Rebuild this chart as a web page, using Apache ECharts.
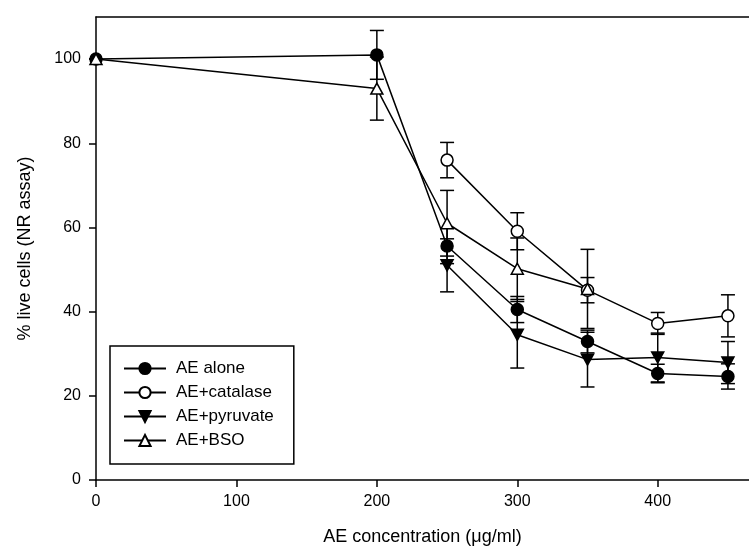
<!DOCTYPE html>
<html>
<head>
<meta charset="utf-8">
<script src="https://cdn.jsdelivr.net/npm/echarts@6/dist/echarts.min.js"></script>
<style>
  html, body { margin: 0; padding: 0; background: #fff; }
  #chart { width: 749px; height: 557px; }
</style>
</head>
<body>
<div id="chart"></div>
<script>
// doses (x values) for each series
var doseAlone = [0, 200, 250, 300, 350, 400, 450]
var doseCatalase = [250, 300, 350, 400, 450]
var dosePyruvate = [250, 300, 350, 400, 450]
var doseBSO = [0, 200, 250, 300, 350]

// % live cells and the error (SD) for each point
var aloneVals = [100, 101, 55.6, 40.5, 32.9, 25.3, 24.6]
var aloneErr = [0, 5.8, 4.2, 3.1, 2.7, 2.2, 3.0]
var catalaseVals = [76, 59.1, 45.1, 37.2, 39.0]
var catalaseErr = [4.2, 4.4, 3.0, 2.6, 5.0]
var pyruvateVals = [51, 34.5, 28.6, 29.1, 27.9]
var pyruvateErr = [6.3, 7.9, 6.5, 5.8, 5.0]
var bsoVals = [100, 93, 61, 50.2, 45.4]
var bsoErr = [0, 7.5, 7.8, 7.3, 9.4]

var xTicks = [0, 100, 200, 300, 400]
var yTicks = [0, 20, 40, 60, 80, 100]

var chart = echarts.init(document.getElementById('chart'))
var font = 'Liberation Sans, Arial, sans-serif'

function points (xs, ys) {
  return xs.map(function (x, i) { return [x, ys[i]] })
}
function errData (xs, ys, es) {
  return xs.map(function (x, i) { return [x, ys[i] - es[i], ys[i] + es[i]] })
}
// error bar: vertical line + two caps
function renderErr (params, api) {
  var lo = api.coord([api.value(0), api.value(1)])
  var hi = api.coord([api.value(0), api.value(2)])
  var w = 7
  var st = { stroke: '#000', lineWidth: 1.5 }
  return {
    type: 'group',
    children: [
      { type: 'line', shape: { x1: lo[0], y1: lo[1], x2: hi[0], y2: hi[1] }, style: st },
      { type: 'line', shape: { x1: lo[0] - w, y1: lo[1], x2: lo[0] + w, y2: lo[1] }, style: st },
      { type: 'line', shape: { x1: hi[0] - w, y1: hi[1], x2: hi[0] + w, y2: hi[1] }, style: st }
    ]
  }
}
function errSeries (xs, ys, es) {
  return {
    type: 'custom',
    renderItem: renderErr,
    data: errData(xs, ys, es),
    encode: { x: 0, y: [1, 2] },
    z: 1,
    silent: true
  }
}
function lineSeries (name, xs, ys, symbol, size, fill) {
  return {
    name: name,
    type: 'line',
    data: points(xs, ys),
    symbol: symbol,
    symbolSize: size,
    showAllSymbol: true,
    lineStyle: { color: '#000', width: 1.5 },
    itemStyle: { color: fill, borderColor: '#000', borderWidth: 1.5 },
    z: 3,
    animation: false
  }
}

var downTri = 'path://M0,0 L10,0 L5,9 Z'
var upTri = 'path://M5,0 L10,9 L0,9 Z'

var option = {
  backgroundColor: '#fff',
  animation: false,
  textStyle: { fontFamily: font, color: '#000' },
  grid: { left: 96, top: 17, right: 0, bottom: 77 },
  legend: {
    orient: 'vertical',
    left: 110,
    top: 346,
    padding: [14, 20, 15, 13],
    borderColor: '#000',
    borderWidth: 1.5,
    itemWidth: 42,
    itemHeight: 14,
    itemGap: 7,
    textStyle: { fontSize: 17, lineHeight: 16, fontFamily: font, color: '#000', padding: [0, 0, 0, 5] },
    data: ['AE alone', 'AE+catalase', 'AE+pyruvate', 'AE+BSO']
  },
  xAxis: [{
    type: 'value',
    min: 0,
    max: 465,
    name: 'AE concentration (\u03bcg/ml)',
    nameLocation: 'middle',
    nameGap: 48,
    nameTextStyle: { fontSize: 18, fontFamily: font, color: '#000' },
    axisLine: { lineStyle: { color: '#000', width: 1.5 } },
    axisTick: { show: true, length: 7, inside: false, customValues: xTicks, lineStyle: { color: '#000', width: 1.5 } },
    axisLabel: { customValues: xTicks, fontSize: 16, color: '#000', margin: 14, fontFamily: font },
    splitLine: { show: false }
  }, {
    type: 'value',
    position: 'top',
    min: 0,
    max: 465,
    axisLine: { show: true, lineStyle: { color: '#000', width: 1.5 } },
    axisTick: { show: false },
    axisLabel: { show: false },
    splitLine: { show: false }
  }],
  yAxis: {
    type: 'value',
    min: 0,
    max: 110,
    name: '% live cells (NR assay)',
    nameLocation: 'middle',
    nameGap: 62,
    nameRotate: 90,
    nameTextStyle: { fontSize: 18, fontFamily: font, color: '#000' },
    axisLine: { show: true, lineStyle: { color: '#000', width: 1.5 } },
    axisTick: { show: true, length: 7, customValues: yTicks, lineStyle: { color: '#000', width: 1.5 } },
    axisLabel: { customValues: yTicks, fontSize: 16, color: '#000', margin: 15, fontFamily: font },
    splitLine: { show: false }
  },
  series: [
    errSeries(doseAlone, aloneVals, aloneErr),
    errSeries(doseCatalase, catalaseVals, catalaseErr),
    errSeries(dosePyruvate, pyruvateVals, pyruvateErr),
    errSeries(doseBSO, bsoVals, bsoErr),
    lineSeries('AE alone', doseAlone, aloneVals, 'circle', 12, '#000'),
    lineSeries('AE+catalase', doseCatalase, catalaseVals, 'circle', 12, '#fff'),
    lineSeries('AE+pyruvate', dosePyruvate, pyruvateVals, downTri, [12, 11], '#000'),
    lineSeries('AE+BSO', doseBSO, bsoVals, upTri, [12, 11], '#fff')
  ]
}
chart.setOption(option)
</script>
</body>
</html>
